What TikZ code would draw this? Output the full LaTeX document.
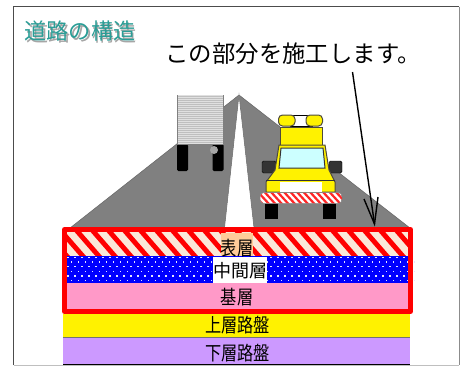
\documentclass[tikz,border=0pt]{standalone}
\usepackage{fontspec}
\setmainfont{Noto Sans CJK JP}
\definecolor{roadgray}{HTML}{808080}
\definecolor{teal1}{HTML}{2A9D96}
\definecolor{hatchpale}{HTML}{FBE8D8}
\definecolor{layerpink}{HTML}{FF99C8}
\definecolor{layerpurple}{HTML}{CC99FF}
\definecolor{peach}{HTML}{FFCC99}
\definecolor{carwin}{HTML}{CCFFFF}
\definecolor{mirror}{HTML}{333333}
\newcommand{\tallsix}[1]{\scalebox{1}[1.2]{#1}}
\tikzset{
  label text/.style={inner sep=0pt,font=\fontsize{16.2}{16}\selectfont,text=black},
  carpart/.style={draw=black!80!yellow,line width=1pt,fill=yellow},
  wheel/.style={fill=black,rounded corners=1.5pt},
}
\begin{document}
\begin{tikzpicture}[x=1pt,y=-1pt]
\useasboundingbox (0,0) rectangle (465,367);
\fill[white] (0,0) rectangle (465,367);
% road
\fill[roadgray,draw=black!60,line width=0.5pt] (239,95) -- (70,228) -- (410,228) -- cycle;
\fill[white,draw=black!60,line width=0.5pt] (239,95) -- (224.5,228) -- (254,228) -- cycle;
% truck
\fill[wheel] (177,144) rectangle (188,171);
\fill[wheel] (212.5,144) rectangle (223.5,171);
\fill[black!12] (177,95) rectangle (223.5,144);
\foreach \yy in {96,98,...,143} \draw[black!25,line width=0.4pt] (177.5,\yy) -- (223,\yy);
\draw[black!50,line width=0.5pt] (177.5,95) -- (177.5,144) -- (223.5,144) -- (223.5,95);
\fill[black!35] (214,150) circle (4);
% car
\fill[wheel,rounded corners=0pt] (265,203) rectangle (278,219);
\fill[wheel,rounded corners=0pt] (323,203) rectangle (336,219);
\filldraw[fill=mirror,draw=black,line width=0.4pt,rounded corners=1.5pt] (262,161) rectangle (276,173);
\filldraw[fill=mirror,draw=black,line width=0.4pt,rounded corners=1.5pt] (329,161) rectangle (342,173);
\filldraw[fill=white,draw=black,line width=0.5pt] (290,115) rectangle (312,126);
\filldraw[carpart,rounded corners=4pt] (278.5,115) rectangle (295,126);
\filldraw[carpart,rounded corners=4pt] (306,115) rectangle (322.5,126);
\filldraw[carpart] (280,127) rectangle (322,145);
\filldraw[carpart] (279,145) -- (325,145) -- (329,170) -- (335,182) -- (335,192) -- (266,192) -- (266,182) -- (275,170) -- cycle;
\filldraw[fill=carwin,draw=black!80,line width=1pt] (281,148) -- (323,148) -- (325,168) -- (279,168) -- cycle;
\draw[black!80,line width=0.8pt] (266,180) -- (335,180);
\filldraw[fill=white,draw=none] (280,181.5) rectangle (322,191.5);
\begin{scope}
  \clip[rounded corners=4pt] (260,192.5) rectangle (342,203.5);
  \fill[white] (260,192) rectangle (342,204);
  \foreach \xx in {250,256.5,...,345} \fill[red!85!white] (\xx,192) -- (\xx+3,192) -- (\xx+14,204) -- (\xx+11,204) -- cycle;
\end{scope}
\draw[black!50,line width=0.5pt,rounded corners=4pt] (260,192.5) rectangle (342,203.5);
% layers
\fill[hatchpale] (64,229) rectangle (411,256);
\begin{scope}
  \clip (64,229) rectangle (411,256);
  \foreach \xx in {40,56,...,420} \fill[red] (\xx,229) -- (\xx+6.5,229) -- (\xx+30,256) -- (\xx+23.5,256) -- cycle;
\end{scope}
\fill[blue] (64,256) rectangle (411,283);
\foreach \row in {0,1,2,3,4,5}{
  \pgfmathsetmacro{\yy}{257.5+\row*4.6}
  \pgfmathsetmacro{\off}{mod(\row,2)*3.5}
  \foreach \xx in {0,7,...,343}{
    \fill[white!90!blue] ({68+\xx+\off-0.7},\yy-0.7) rectangle ({68+\xx+\off+0.7},\yy+0.7);
  }
}
\fill[layerpink] (64,283) rectangle (411,311);
\fill[yellow] (63,314) rectangle (410,336.5);
\fill[black!55] (63,336.5) rectangle (410,338);
\fill[layerpurple] (63,338) rectangle (410,364);
\draw[black,line width=0.5pt] (63,364.3) -- (410,364.3);
% label backgrounds
\fill[peach] (221,233) rectangle (253,256);
\fill[white] (213,256.5) rectangle (267,283);
% red outline
\draw[red,line width=5pt,line join=round] (64.5,229.5) rectangle (410.5,311.5);
% frame
\draw[black!70,line width=1pt] (13.5,365) -- (13.5,6.5) -- (459,6.5);
\draw[black!45,line width=1pt] (459,6.5) -- (459,365);
\draw[black!25,line width=1pt] (13.5,365.5) -- (459,365.5);
% texts
\node[font=\fontsize{22.2}{22}\selectfont,text=black!35,inner sep=0pt] at (81.5,33) {道路の構造};
\node (title) [font=\fontsize{22.2}{22}\selectfont,text=teal1,inner sep=0pt] at (80,31.5) {道路の構造};
\node (note) [font=\fontsize{23.4}{24}\selectfont,inner sep=0pt] at (293,54) {この部分を施工します。};
\node (l1) [label text] at (237,248) {\tallsix{表層}};
\node (l2) [label text,font=\fontsize{18}{18}\selectfont] at (240,270.5) {中間層};
\node (l3) [label text] at (237,297) {\tallsix{基層}};
\node (l4) [label text] at (237.5,325) {\tallsix{上層路盤}};
\node (l5) [label text] at (237.5,353) {\tallsix{下層路盤}};
% arrow
\coordinate (arrowstart) at (352.5,72);
\coordinate (arrowtip) at (374.5,224);
\coordinate (barbl) at (364,199);
\coordinate (barbr) at (378,197);
\draw[black,line width=1.4pt] (arrowstart) -- (arrowtip);
\draw[black,line width=1.4pt] (barbl) -- (arrowtip) -- (barbr);
\end{tikzpicture}
\end{document}
